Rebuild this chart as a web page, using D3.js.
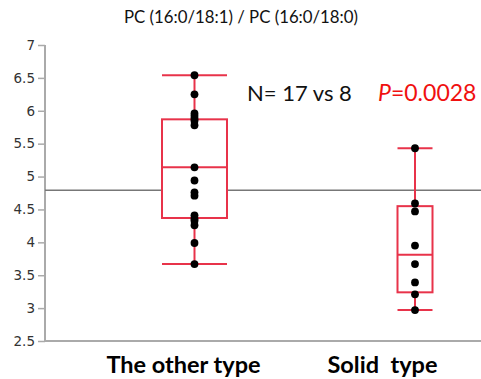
<!DOCTYPE html>
<html><head><meta charset="utf-8">
<script src="https://cdn.jsdelivr.net/npm/d3@7"></script>
<style>body{margin:0;background:#fff}svg{display:block}</style>
</head><body>
<svg id="c" width="481" height="379"></svg>
<script>
const categories = ["The other type", "Solid  type"];
const otherValues = [6.54, 6.25, 5.96, 5.92, 5.88, 5.85, 5.78, 5.14, 4.94, 4.76, 4.71, 4.41, 4.36, 4.33, 4.26, 3.99, 3.67];
const solidValues = [5.43, 4.59, 4.47, 3.95, 3.67, 3.39, 3.21, 2.97];
// box stats: [lowerWhisker, q1, median, q3, upperWhisker]
const otherBox = [3.67, 4.37, 5.14, 5.87, 6.54];
const solidBox = [2.97, 3.24, 3.81, 4.55, 5.43];
const yTicks = [2.5, 3, 3.5, 4, 4.5, 5, 5.5, 6, 6.5, 7];
const refLine = 4.79;
const title = "PC (16:0/18:1) / PC (16:0/18:0)";
const nText = "N= 17 vs 8";
const pText = "=0.0028";

const svg = d3.select("#c");
const y = d3.scaleLinear().domain([2.5, 7]).range([341, 45]);
const x = d3.scaleOrdinal().domain(categories).range([194.5, 415]);
const boxW = {"The other type": 65, "Solid  type": 35};
const red = "#e8334a";

// title
svg.append("text").attr("x", 241).attr("y", 23).attr("text-anchor", "middle")
  .attr("font-family", "Lato, sans-serif").attr("font-size", 16.8).attr("fill", "#111").text(title);

// y axis
const axis = d3.axisLeft(y).tickValues(yTicks).tickSize(7).tickPadding(3).tickFormat(d3.format(""));
const ga = svg.append("g").attr("transform", "translate(45,0)").call(axis);
ga.select(".domain").attr("stroke", "#aaa").attr("stroke-width", 2).attr("d", "M0,45V341");
ga.selectAll(".tick line").attr("stroke", "#aaa").attr("stroke-width", 1.5);
ga.selectAll(".tick text").attr("font-family", "DejaVu Sans, sans-serif").attr("font-size", 13.5).attr("fill", "#333");

// bottom line
svg.append("line").attr("x1", 45).attr("x2", 481).attr("y1", y(2.5)).attr("y2", y(2.5))
  .attr("stroke", "#aaa").attr("stroke-width", 2);

// reference line
svg.append("line").attr("x1", 45).attr("x2", 481).attr("y1", y(refLine)).attr("y2", y(refLine))
  .attr("stroke", "#777").attr("stroke-width", 1.5);

function drawBox(cat, box, vals) {
  const cx = x(cat), w = boxW[cat];
  const g = svg.append("g");
  g.append("line").attr("x1", cx).attr("x2", cx).attr("y1", y(box[0])).attr("y2", y(box[4]))
    .attr("stroke", red).attr("stroke-width", 2);
  g.append("rect").attr("x", cx - w/2).attr("width", w).attr("y", y(box[3])).attr("height", y(box[1]) - y(box[3]))
    .attr("fill", "#fff").attr("stroke", red).attr("stroke-width", 2);
  [box[0], box[2], box[4]].forEach(v => {
    g.append("line").attr("x1", cx - w/2).attr("x2", cx + w/2).attr("y1", y(v)).attr("y2", y(v))
      .attr("stroke", red).attr("stroke-width", 2);
  });
  g.selectAll("circle").data(vals).join("circle").attr("cx", cx).attr("cy", d => y(d)).attr("r", 3.9).attr("fill", "#000");
}
drawBox(categories[0], otherBox, otherValues);
drawBox(categories[1], solidBox, solidValues);

// annotations
svg.append("text").attr("x", 247).attr("y", 101).attr("font-family", "Lato, sans-serif").attr("font-size", 22)
  .attr("fill", "#111").text(nText);
const pt = svg.append("text").attr("x", 378).attr("y", 101).attr("font-family", "Lato, sans-serif").attr("font-size", 23).attr("fill", "#f01010");
pt.append("tspan").attr("font-style", "italic").text("P");
pt.append("tspan").text(pText);

// x labels
svg.selectAll(".xl").data(categories).join("text").attr("class", "xl")
  .attr("x", (d, i) => i === 0 ? 183.5 : 382.5).attr("y", 373).attr("text-anchor", "middle")
  .attr("font-family", "Lato, sans-serif").attr("font-weight", "bold").attr("font-size", 23.5).attr("fill", "#000")
  .attr("xml:space", "preserve").style("white-space", "pre").text(d => d);
</script>
</body></html>
